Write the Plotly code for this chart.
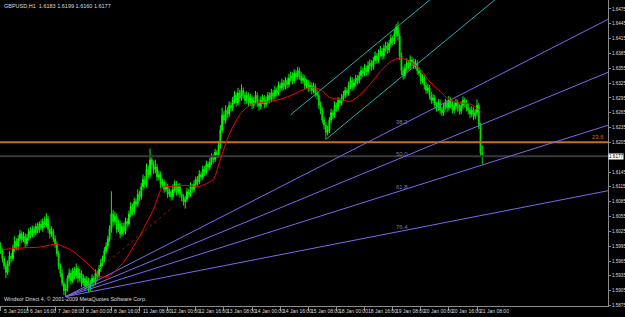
import plotly.graph_objects as go

# ---------------- data (prices in pips relative to 1.6000) ----------------
BASE = 1.6
PIP = 0.0001

first_bar = -15  # bar index of the left-most candle (0 = 6 Jan 16:00)

open_pips = [
 -5,-15,-30,-45,-58,-40,-25,-30,-10,5,
 -5,10,20,8,15,0,12,25,18,30,
 22,35,28,40,32,45,38,50,30,20,
 25,10,0,-20,-45,-60,-80,-95,-90,-70,
 -60,-75,-55,-65,-50,-70,-60,-80,-70,-85,
 -75,-90,-80,-70,-78,-60,-65,-50,-40,-30,
 -15,-5,10,30,60,45,55,30,40,20,
 35,25,45,40,60,75,65,85,80,100,
 95,115,130,120,150,140,170,160,150,155,
 135,140,120,125,110,115,100,105,95,110,
 120,105,115,100,95,85,90,105,100,115,
 110,120,130,125,140,135,150,145,160,155,
 165,175,170,185,180,200,230,260,250,270,
 262,280,275,290,300,285,305,295,310,300,
 290,300,285,295,280,290,300,285,278,290,
 295,282,290,300,292,305,298,310,305,320,
 315,325,318,330,322,335,340,330,345,338,
 350,340,330,335,320,325,315,320,310,318,
 305,300,280,270,250,240,225,230,250,265,
 260,280,275,290,285,295,300,310,305,320,
 330,318,325,335,330,340,350,345,355,348,
 360,365,358,370,380,372,385,390,380,395,
 400,392,405,415,410,425,438,420,380,350,
 340,355,365,360,372,368,360,365,350,345,
 330,335,320,310,315,300,290,295,280,275,
 285,270,265,278,285,275,290,282,270,278,
 285,275,268,280,290,284,275,270,262,270,
 258,265,280,240,183]

high_pips = [
 3,-9,-25,-38,-34,-15,-19,-2,15,11,
 17,28,25,24,21,20,31,34,37,35,
 41,43,45,49,51,55,62,56,37,35,
 30,17,5,-14,-40,-52,-75,-82,-64,-50,
 -53,-49,-47,-40,-45,-51,-54,-62,-65,-66,
 -69,-73,-62,-65,-52,-54,-43,-31,-24,-7,
 3,16,37,106,68,65,61,49,47,43,
 42,53,51,67,84,81,93,91,110,107,
 123,140,137,162,158,192,180,168,170,161,
 148,146,132,130,124,121,112,110,120,128,
 127,121,123,106,100,97,113,111,124,121,
 128,136,137,149,146,158,157,168,166,174,
 183,181,192,190,208,240,275,268,280,276,
 288,286,297,309,306,315,311,322,316,307,
 308,306,303,301,297,309,306,292,298,302,
 301,298,307,306,313,311,319,316,328,326,
 333,331,337,336,344,348,347,353,351,358,
 356,347,343,341,333,331,328,326,326,324,
 312,306,288,276,258,246,238,256,273,271,
 288,286,297,295,303,309,317,316,328,338,
 337,333,342,341,348,359,356,363,361,369,
 373,371,378,389,386,393,400,396,403,409,
 408,412,423,421,434,444,449,426,387,358,
 363,375,371,381,378,375,373,371,357,351,
 343,341,327,323,321,307,303,301,287,293,
 292,276,285,293,291,299,296,289,286,293,
 291,282,288,298,296,291,283,276,278,276,
 272,292,285,245,199]

low_pips = [
 -21,-38,-52,-70,-63,-46,-38,-35,-16,-13,
 -13,5,1,3,-9,-5,6,11,13,14,
 17,21,22,27,24,32,33,22,11,14,
 4,-8,-26,-52,-68,-86,-104,-107,-97,-76,
 -83,-80,-72,-71,-79,-76,-88,-85,-94,-91,
 -98,-96,-87,-87,-84,-73,-70,-57,-46,-38,
 -21,-10,4,22,35,38,22,24,11,14,
 17,19,33,35,54,57,59,73,75,86,
 89,108,112,114,131,134,152,141,143,127,
 128,112,114,103,105,92,94,87,89,103,
 97,99,93,86,77,71,84,93,95,102,
 104,113,117,120,128,129,137,140,148,149,
 159,162,165,173,174,192,224,241,243,254,
 256,267,269,283,277,280,287,289,293,282,
 283,277,279,272,274,283,277,269,272,283,
 274,276,283,284,286,290,292,298,300,307,
 309,310,312,314,316,328,322,324,331,332,
 332,323,324,312,314,307,309,302,304,297,
 292,273,262,243,231,211,219,224,243,252,
 254,267,269,278,279,288,294,297,299,313,
 310,312,318,322,324,333,337,339,340,342,
 353,350,352,363,364,366,378,372,374,388,
 384,386,398,402,404,418,411,372,341,332,
 334,348,352,354,360,353,354,342,338,322,
 324,312,303,304,292,283,284,272,267,269,
 262,258,259,271,267,269,274,263,264,271,
 267,261,262,273,276,268,262,254,256,250,
 252,259,232,178,160]

close_pips = [
 -15,-30,-45,-58,-40,-25,-30,-10,5,-5,
 10,20,8,15,0,12,25,18,30,22,
 35,28,40,32,45,38,50,30,20,25,
 10,0,-20,-45,-60,-80,-95,-90,-70,-60,
 -75,-55,-65,-50,-70,-60,-80,-70,-85,-75,
 -90,-80,-70,-78,-60,-65,-50,-40,-30,-15,
 -5,10,30,60,45,55,30,40,20,35,
 25,45,40,60,75,65,85,80,100,95,
 115,130,120,150,140,170,160,150,155,135,
 140,120,125,110,115,100,105,95,110,120,
 105,115,100,95,85,90,105,100,115,110,
 120,130,125,140,135,150,145,160,155,165,
 175,170,185,180,200,230,260,250,270,262,
 280,275,290,300,285,305,295,310,300,290,
 300,285,295,280,290,300,285,278,290,295,
 282,290,300,292,305,298,310,305,320,315,
 325,318,330,322,335,340,330,345,338,350,
 340,330,335,320,325,315,320,310,318,305,
 300,280,270,250,240,225,230,250,265,260,
 280,275,290,285,295,300,310,305,320,330,
 318,325,335,330,340,350,345,355,348,360,
 365,358,370,380,372,385,390,380,395,400,
 392,405,415,410,425,438,420,380,350,340,
 355,365,360,372,368,360,365,350,345,330,
 335,320,310,315,300,290,295,280,275,285,
 270,265,278,285,275,290,282,270,278,285,
 275,268,280,290,284,275,270,262,270,258,
 265,280,240,183,177]

# moving average (red), read at selected bars
ma_bars = [-15,-8,0,7,17,26,36,42,47,55,64,72,77,83,91,98,106,110,115,121,
           127,132,138,144,149,155,161,167,172,178,184,189,195,201,206,212,
           218,224,229,235,240,246,252,257,259]
ma_pips = [-12,-10,-8,-7,-1,-15,-45,-67,-65,-37,15,70,114,116,118,116,130,171,
           221,261,281,285,288,292,298,308,316,312,296,292,288,300,322,348,366,
           376,368,352,328,308,292,285,283,271,265]

# dotted dark-red line
dotted_bars = [41, 83]
dotted_pips = [-51, 74]

# Fibonacci fan
fan_origin = (22, -107)
fan_end = (211, 449)
fan_levels = [38.2, 50.0, 61.8, 76.4]

# equidistant channel (teal): start point and a second point on each line
chan_lower = [(170, 211), (232, 393)]
chan_upper = [(150, 261), (212, 443)]

# horizontal levels
orange_level = 1.6205
orange_label = "23.6"
bid_price = 1.6177

# axis labels
x_label_bars = [-15, 0, 16, 32, 48, 64, 80, 96, 112, 128, 144, 160, 176, 192, 208, 224, 240, 256]
x_label_text = ["5 Jan 2010", "6 Jan 16:00", "7 Jan 08:00", "8 Jan 00:00", "8 Jan 16:00",
                "11 Jan 08:00", "12 Jan 00:00", "12 Jan 16:00", "13 Jan 08:00", "14 Jan 00:00",
                "14 Jan 16:00", "15 Jan 08:00", "18 Jan 00:00", "18 Jan 16:00", "19 Jan 08:00",
                "20 Jan 00:00", "20 Jan 16:00", "21 Jan 08:00"]
y_ticks = [1.5875, 1.5905, 1.5935, 1.5965, 1.5995, 1.6025, 1.6055, 1.6085, 1.6115, 1.6145,
           1.6205, 1.6235, 1.6265, 1.6295, 1.6325, 1.6355, 1.6385, 1.6415, 1.6445, 1.6475]

title_text = "GBPUSD,H1  1.6183 1.6199 1.6160 1.6177"
copyright_text = "Windsor Direct 4, © 2001-2009 MetaQuotes Software Corp."

# ---------------- build ----------------
n = len(close_pips)
assert len(open_pips) == n and len(high_pips) == n and len(low_pips) == n

def px(v):
    return BASE + v * PIP

bars = list(range(first_bar, first_bar + n))
X_MIN, X_MAX = -15.36, 330.5
Y_MIN, Y_MAX = 1.5874, 1.6493

FONT = "Liberation Sans Narrow, Liberation Sans, Arial"
TXT = "#dcdcdc"
AXIS = "#8c8c8c"

fig = go.Figure()

# horizontal lines
fig.add_trace(go.Scatter(x=[X_MIN, X_MAX], y=[bid_price, bid_price], mode="lines",
                         line=dict(color="#3a3a3a", width=2), hoverinfo="skip"))
fig.add_trace(go.Scatter(x=[X_MIN, X_MAX], y=[orange_level, orange_level], mode="lines",
                         line=dict(color="#d2691e", width=2), hoverinfo="skip"))

# fan lines
fo_b, fo_p = fan_origin
fe_b, fe_p = fan_end
fan_color = "#7b68ee"
for lvl in fan_levels:
    target = fe_p - lvl / 100.0 * (fe_p - fo_p)
    slope = (target - fo_p) / (fe_b - fo_b)
    y_end = fo_p + slope * (X_MAX - fo_b)
    fig.add_trace(go.Scatter(x=[fo_b, X_MAX], y=[px(fo_p), px(y_end)], mode="lines",
                             line=dict(color=fan_color, width=1), hoverinfo="skip"))
    fig.add_annotation(x=fe_b - 2, y=px(target), xref="x", yref="y", text=f"{lvl:.1f}",
                       showarrow=False, xanchor="left", yanchor="bottom",
                       font=dict(family=FONT, size=6, color="#7a7aa8"))

# channel lines
for (b0, p0), (b1, p1) in (chan_lower, chan_upper):
    slope = (p1 - p0) / (b1 - b0)
    fig.add_trace(go.Scatter(x=[b0, X_MAX], y=[px(p0), px(p0 + slope * (X_MAX - b0))], mode="lines",
                             line=dict(color="#20b2aa", width=1), hoverinfo="skip"))

# dotted line
fig.add_trace(go.Scatter(x=dotted_bars, y=[px(v) for v in dotted_pips], mode="lines",
                         line=dict(color="#a01010", width=1, dash="dot"), hoverinfo="skip"))

# candles
fig.add_trace(go.Candlestick(
    x=bars,
    open=[px(v) for v in open_pips], high=[px(v) for v in high_pips],
    low=[px(v) for v in low_pips], close=[px(v) for v in close_pips],
    increasing=dict(line=dict(color="#00ff00", width=1), fillcolor="#009000"),
    decreasing=dict(line=dict(color="#00e000", width=1), fillcolor="#00ff00"),
    whiskerwidth=0, hoverinfo="skip"))

# moving average
fig.add_trace(go.Scatter(x=ma_bars, y=[px(v) for v in ma_pips], mode="lines",
                         line=dict(color="#ff0000", width=1, shape="spline", smoothing=0.6),
                         hoverinfo="skip"))

# annotations: x labels
for b, t in zip(x_label_bars, x_label_text):
    fig.add_annotation(x=b, y=0, xref="x", yref="paper", text=t, showarrow=False,
                       xanchor="left", yanchor="top", xshift=1, yshift=0,
                       font=dict(family=FONT, size=5, color=TXT))

fig.add_annotation(x=0, y=1, xref="paper", yref="paper", text=title_text, showarrow=False,
                   xanchor="left", yanchor="top", xshift=2, yshift=-1,
                   font=dict(family=FONT, size=5.5, color=TXT))
fig.add_annotation(x=0, y=0, xref="paper", yref="paper", text=copyright_text, showarrow=False,
                   xanchor="left", yanchor="bottom", xshift=2, yshift=2,
                   font=dict(family=FONT, size=5.4, color=TXT))
fig.add_annotation(x=1, y=orange_level, xref="paper", yref="y", text=orange_label, showarrow=False,
                   xanchor="right", yanchor="bottom", xshift=-2, yshift=0,
                   font=dict(family=FONT, size=6, color="#d2691e"))
fig.add_annotation(x=1, y=bid_price, xref="paper", yref="y", text=f"{bid_price:.4f}", showarrow=False,
                   xanchor="left", yanchor="middle", xshift=0, bgcolor="#ffffff", borderpad=0,
                   font=dict(family=FONT, size=4.6, color="#000000"))

fig.update_layout(
    width=625, height=317,
    margin=dict(l=0, r=17, t=0, b=11),
    paper_bgcolor="#000000", plot_bgcolor="#000000",
    showlegend=False,
    xaxis=dict(range=[X_MIN, X_MAX], showgrid=False, zeroline=False, showline=True,
               linecolor=AXIS, linewidth=1, tickmode="array", tickvals=x_label_bars,
               showticklabels=False, ticks="outside", ticklen=4, tickcolor=AXIS,
               rangeslider=dict(visible=False), fixedrange=True),
    yaxis=dict(range=[Y_MIN, Y_MAX], side="right", showgrid=False, zeroline=False,
               showline=True, linecolor=AXIS, linewidth=1, tickmode="array",
               tickvals=y_ticks, ticktext=[f"{v:.4f}" for v in y_ticks],
               ticks="outside", ticklen=2, tickcolor=AXIS, ticklabelstandoff=0,
               tickfont=dict(family=FONT, size=4.6, color=TXT), automargin=False),
)

fig.write_html("out.html")
